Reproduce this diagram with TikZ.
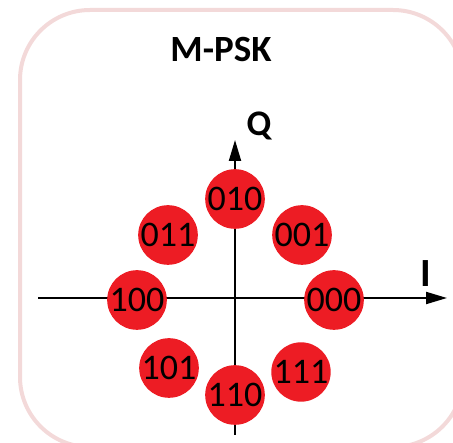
\documentclass[tikz,border=0pt]{standalone}
\usepackage{fontspec}
\setmainfont{Carlito}
\usepackage{xcolor}
\usetikzlibrary{arrows.meta,positioning}
\definecolor{symred}{HTML}{ED1C24}
\definecolor{framepink}{HTML}{F3D9D9}

\begin{document}
\begin{tikzpicture}[
    x=1pt, y=-1pt,
    symbol/.style={circle, fill=symred, minimum size=57pt, inner sep=0pt,
      font=\fontsize{36}{36}\selectfont},
    axis/.style={line width=2pt, -{Triangle[length=21pt,width=12pt]}},
    axislabel/.style={font=\bfseries\fontsize{36}{36}\selectfont, inner sep=0pt}
  ]
  \useasboundingbox (0,0) rectangle (453,443);
  \clip (0,0) rectangle (453,443);

  % frame
  \draw[framepink, line width=4pt, rounded corners=70pt] (20,10) rectangle (463,447);
  \node[font=\bfseries\fontsize{37}{37}\selectfont, inner sep=0pt] (title) at (221,49) {M-PSK};

  % axes
  \coordinate (west) at (38,298);
  \coordinate (east) at (447,298);
  \coordinate (south) at (235,435);
  \coordinate (north) at (235,140);
  \draw[axis] (west) -- (east);
  \draw[axis] (south) -- (north);
  \node[axislabel, font=\bfseries\fontsize{40}{40}\selectfont] (ilabel) at (426,274) {I};
  \node[axislabel] (qlabel) at (259,126) {Q};

  % constellation points
  \node[symbol] (s000) at (334,300) {000};
  \node[symbol] (s001) at (302,235) {001};
  \node[symbol] (s010) at (235,199) {010};
  \node[symbol] (s011) at (168,235) {011};
  \node[symbol] (s100) at (137,300) {100};
  \node[symbol] (s101) at (169,368) {101};
  \node[symbol] (s110) at (235,395) {110};
  \node[symbol] (s111) at (301,372) {111};
\end{tikzpicture}
\end{document}
